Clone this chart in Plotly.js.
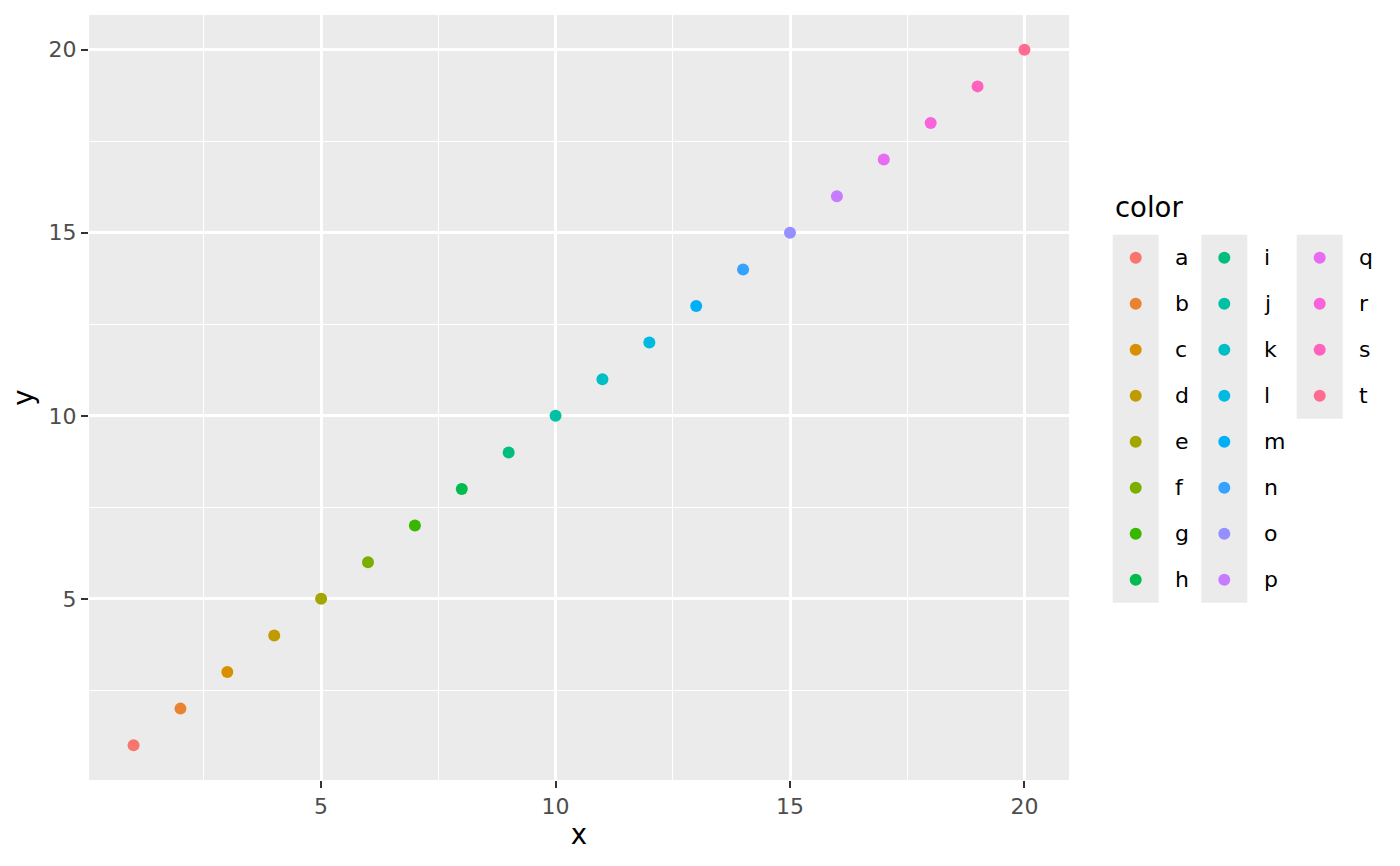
<!DOCTYPE html>
<html>
<head>
<meta charset="utf-8">
<script src="https://cdn.plot.ly/plotly-3.0.1.min.js"></script>
<style>
  html, body { margin: 0; padding: 0; background: #ffffff; }
  #myGraph { width: 1400px; height: 866px; }
</style>
</head>
<body>
<div id="myGraph"></div>
<script>
let myGraph = document.getElementById('myGraph');

// data
let categories = ['a', 'b', 'c', 'd', 'e', 'f', 'g', 'h', 'i', 'j',
                  'k', 'l', 'm', 'n', 'o', 'p', 'q', 'r', 's', 't'];
let xValues = [1, 2, 3, 4, 5, 6, 7, 8, 9, 10, 11, 12, 13, 14, 15, 16, 17, 18, 19, 20];
let yValues = [1, 2, 3, 4, 5, 6, 7, 8, 9, 10, 11, 12, 13, 14, 15, 16, 17, 18, 19, 20];

// ggplot hue palette, 20 levels
let palette = ['#F8766D', '#EA8331', '#D89000', '#C09B00', '#A3A500',
               '#7CAE00', '#39B600', '#00BB4E', '#00BF7D', '#00C1A3',
               '#00BFC4', '#00BAE0', '#00B0F6', '#35A2FF', '#9590FF',
               '#C77CFF', '#E76BF3', '#FA62DB', '#FF62BC', '#FF6C91'];

let fontFamily = 'DejaVu Sans, sans-serif';

// main points
let trace1 = {
  type: 'scatter',
  mode: 'markers',
  x: xValues,
  y: yValues,
  text: categories,
  marker: { color: palette, size: 12, line: { width: 0 } },
  xaxis: 'x',
  yaxis: 'y',
  showlegend: false,
  hovertemplate: 'x: %{x}<br>y: %{y}<br>color: %{text}<extra></extra>',
};

// hand-made legend, 3 columns of 8 rows (x2/y2 are in page pixels)
let rowsPerCol = 8;
let keyColX = [1135.7, 1224.3, 1319.7];
let keyRowY0 = 257.7;
let keyRowStep = 46;
let labelGap = 37.5;

let legendX = categories.map((c, i) => keyColX[Math.floor(i / rowsPerCol)]);
let legendY = categories.map((c, i) => keyRowY0 + keyRowStep * (i % rowsPerCol));

let trace2 = {
  type: 'scatter',
  mode: 'markers',
  x: legendX,
  y: legendY,
  marker: { color: palette, size: 12, line: { width: 0 } },
  xaxis: 'x2',
  yaxis: 'y2',
  showlegend: false,
  hoverinfo: 'skip',
};

let annotations = categories.map((c, i) => ({
  x: legendX[i] + labelGap,
  y: legendY[i],
  xref: 'x2',
  yref: 'y2',
  text: c,
  showarrow: false,
  xanchor: 'left',
  yanchor: 'middle',
  font: { family: fontFamily, size: 22, color: '#000000' },
}));

annotations.push({
  x: 1113,
  y: 207,
  xref: 'x2',
  yref: 'y2',
  text: 'color',
  showarrow: false,
  xanchor: 'left',
  yanchor: 'middle',
  font: { family: fontFamily, size: 27.5, color: '#000000' },
});

// grey panel background for the main plot
let shapes = [{
  type: 'rect',
  xref: 'x domain',
  yref: 'y domain',
  x0: 0, x1: 1, y0: 0, y1: 1,
  fillcolor: '#EBEBEB',
  line: { width: 0 },
  layer: 'below',
}];

// grey key backgrounds
let nCols = Math.ceil(categories.length / rowsPerCol);
for (let col = 0; col < nCols; col++) {
  let n = Math.min(rowsPerCol, categories.length - col * rowsPerCol);
  shapes.push({
    type: 'rect',
    xref: 'x2',
    yref: 'y2',
    x0: keyColX[col] - 23,
    x1: keyColX[col] + 23,
    y0: keyRowY0 - keyRowStep / 2,
    y1: keyRowY0 - keyRowStep / 2 + keyRowStep * n,
    fillcolor: '#EBEBEB',
    line: { width: 0 },
    layer: 'below',
  });
}

let axisCommon = {
  range: [0.05, 20.95],
  autorange: false,
  tick0: 5,
  dtick: 5,
  showgrid: true,
  gridcolor: '#FFFFFF',
  gridwidth: 2.6,
  zeroline: false,
  showline: false,
  ticks: 'outside',
  ticklen: 7,
  tickwidth: 2.2,
  tickcolor: '#333333',
  tickfont: { family: fontFamily, size: 22, color: '#4D4D4D' },
  automargin: true,
  minor: {
    tick0: 2.5,
    dtick: 2.5,
    showgrid: true,
    gridcolor: '#FFFFFF',
    gridwidth: 1.3,
    ticks: '',
  },
};

let layout = {
  width: 1400,
  height: 866,
  margin: { l: 89, r: 0, t: 15, b: 86, pad: 0 },
  paper_bgcolor: '#FFFFFF',
  plot_bgcolor: '#FFFFFF',
  font: { family: fontFamily },
  showlegend: false,
  xaxis: Object.assign({}, axisCommon, {
    domain: [0, 980 / 1311],
    title: { text: 'x', standoff: 6, font: { family: fontFamily, size: 27.5, color: '#000000' } },
  }),
  yaxis: Object.assign({}, axisCommon, {
    title: { text: 'y', standoff: 6, font: { family: fontFamily, size: 27.5, color: '#000000' } },
  }),
  xaxis2: {
    domain: [1011 / 1311, 1],
    range: [1100, 1400],
    autorange: false,
    visible: false,
    fixedrange: true,
  },
  yaxis2: {
    domain: [0, 1],
    range: [780, 15],
    autorange: false,
    visible: false,
    fixedrange: true,
  },
  shapes: shapes,
  annotations: annotations,
};

Plotly.newPlot(myGraph, [trace1, trace2], layout, { displayModeBar: false });
</script>
</body>
</html>
